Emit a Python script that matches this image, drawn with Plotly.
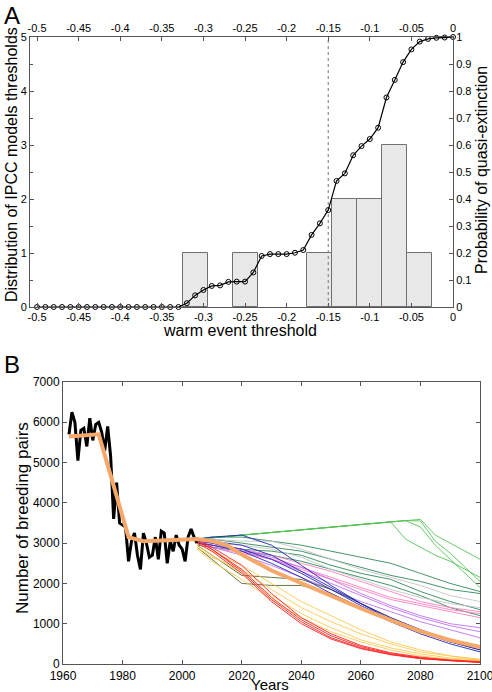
import plotly.graph_objects as go

# ---------------- Panel A data ----------------
BIN_CENTERS = [-0.31, -0.25, -0.16, -0.13, -0.10, -0.07, -0.04]
BIN_COUNTS = [1, 1, 1, 2, 2, 3, 1]
BIN_WIDTH = 0.03

THRESH = [round(-0.5 + 0.01 * i, 2) for i in range(51)]
PROB = [0, 0, 0, 0, 0, 0, 0, 0, 0, 0,
        0, 0, 0, 0, 0, 0, 0, 0, 0.014, 0.043,
        0.063, 0.078, 0.080, 0.093, 0.094, 0.094, 0.128, 0.189, 0.196, 0.196,
        0.196, 0.201, 0.211, 0.267, 0.31, 0.359, 0.467, 0.495, 0.562, 0.596,
        0.622, 0.664, 0.776, 0.841, 0.907, 0.954, 0.983, 0.993, 0.997, 0.998,
        1.0]
CUTOFF = -0.15

XTICKS_A = [round(-0.5 + 0.05 * i, 2) for i in range(11)]
XTICK_TEXT_A = ["-0.5", "-0.45", "-0.4", "-0.35", "-0.3", "-0.25", "-0.2", "-0.15", "-0.1", "-0.05", "0"]
YTICKS_A2 = [round(0.1 * i, 1) for i in range(11)]
YTICK_TEXT_A2 = ["0", "0.1", "0.2", "0.3", "0.4", "0.5", "0.6", "0.7", "0.8", "0.9", "1"]

# ---------------- Panel B data ----------------
OBS_YEARS = list(range(1962, 2006))
OBS_PAIRS = [5700, 6250, 6000, 5050, 5800, 5850, 5400, 6100, 5550, 5950,
             6000, 5750, 5300, 5900, 5150, 3600, 4500, 3500, 3450, 3400,
             2550, 3050, 3250, 2700, 2350, 3250, 3000, 2650, 2700, 3150,
             2600, 3300, 3250, 2500, 3050, 2800, 3200, 2950, 2850, 2550,
             3150, 3350, 3150, 3000]

MEAN_YEARS = [1962, 1972, 1982, 1987, 2005, 2010, 2015, 2020, 2030, 2040, 2050, 2060, 2070, 2080, 2090, 2100]
MEAN_PAIRS = [5650, 5700, 3150, 3050, 3100, 3050, 2950, 2720, 2320, 2000, 1680, 1380, 1090, 810, 590, 420]

GREEN_YEARS = [2005, 2070, 2075, 2080, 2085, 2090, 2095, 2100]
GREEN_LINES = [
    [3100, 3530, 3560, 3590, 3200, 3000, 2800, 2600],
    [3100, 3530, 3100, 2900, 2700, 2550, 2350, 2150],
    [3100, 3530, 3560, 3550, 3050, 2750, 2400, 2050],
    [3100, 3530, 3560, 3400, 2950, 2600, 2250, 1900],
]

PROJ_YEARS = [2005, 2010, 2020, 2030, 2040, 2050, 2060, 2070, 2080, 2090, 2100]
TEAL_LINES = [
    [3100, 3150, 3150, 3050, 2950, 2800, 2650, 2500, 2250, 2000, 1800],
    [3050, 3100, 3000, 2900, 2800, 2600, 2400, 2200, 2050, 1850, 1750],
    [3000, 2950, 2850, 2800, 2700, 2450, 2250, 2100, 1800, 1550, 1350],
    [2950, 2900, 2800, 2700, 2550, 2350, 2150, 1950, 1700, 1400, 1200],
]
GRAY_LINES = [
    [3100, 3100, 3050, 3050, 2850, 2600, 2350, 2150, 1950, 1700, 1550],
    [3050, 3000, 2950, 2850, 2650, 2350, 2100, 1850, 1650, 1500, 1400],
]
PINK_LINES = [
    [3050, 2950, 2850, 2700, 2500, 2300, 2050, 1800, 1550, 1400, 1300],
    [3000, 2900, 2750, 2600, 2400, 2150, 1900, 1650, 1500, 1350, 1250],
    [3100, 3000, 2800, 2600, 2350, 2100, 1850, 1600, 1450, 1300, 1150],
]
VIOLET_LINES = [
    [3050, 2950, 2800, 2600, 2300, 2000, 1700, 1400, 1150, 950, 800],
    [3100, 3000, 2850, 2650, 2400, 2100, 1750, 1450, 1200, 1000, 900],
    [3000, 2900, 2700, 2450, 2150, 1850, 1550, 1300, 1050, 850, 650],
]
BLUE_LINES = [
    [3100, 3150, 3200, 2950, 2450, 1950, 1500, 1100, 800, 550, 350],
    [3050, 3000, 2850, 2600, 2250, 1850, 1450, 1100, 800, 550, 400],
    [3100, 3050, 2950, 2700, 2300, 1900, 1500, 1150, 850, 600, 450],
    [3000, 2950, 2800, 2500, 2150, 1750, 1400, 1050, 750, 500, 300],
]
OLIVE_LINES = [
    [2950, 2700, 2200, 2150, 2100, 1850, 1500, 1150, 850, 550, 350],
    [2900, 2600, 2000, 1950, 1950, 1750, 1400, 1100, 800, 550, 400],
]
YELLOW_LINES = [
    [2950, 2700, 2250, 1700, 1250, 900, 600, 400, 250, 150, 100],
    [2900, 2650, 2350, 1850, 1400, 1050, 750, 500, 300, 200, 120],
    [3000, 2800, 2450, 2000, 1550, 1200, 850, 550, 350, 200, 100],
    [2850, 2550, 2100, 1600, 1150, 800, 550, 350, 200, 120, 80],
]
RED_LINES = [
    [3050, 2850, 2350, 1650, 1100, 700, 430, 260, 150, 90, 50],
    [3000, 2800, 2250, 1550, 1000, 620, 380, 230, 130, 80, 40],
    [3100, 2900, 2450, 1750, 1150, 750, 460, 280, 170, 100, 60],
    [3050, 2850, 2300, 1600, 1050, 650, 400, 240, 140, 80, 40],
]

FONT = "Liberation Sans, Arial, sans-serif"
AX = "#555555"

fig = go.Figure()

# ---- Panel A ----
fig.add_trace(go.Bar(x=BIN_CENTERS, y=BIN_COUNTS, width=BIN_WIDTH,
                     marker=dict(color="#E8E8E8", line=dict(color="#707070", width=1)),
                     xaxis="x", yaxis="y", showlegend=False))
fig.add_trace(go.Scatter(x=[CUTOFF, CUTOFF], y=[0, 5], mode="lines",
                         line=dict(color="#777777", width=1, dash="dot"),
                         xaxis="x", yaxis="y", showlegend=False))
fig.add_trace(go.Scatter(x=THRESH, y=PROB, mode="lines+markers",
                         line=dict(color="black", width=1.2),
                         marker=dict(symbol="circle-open", size=5, color="black", line=dict(width=1)),
                         xaxis="x2", yaxis="y2", showlegend=False, cliponaxis=False))

# ---- Panel B ----
def add_group(years, lines, color):
    for vals in lines:
        fig.add_trace(go.Scatter(x=years, y=vals, mode="lines",
                                 line=dict(color=color, width=0.9),
                                 xaxis="x3", yaxis="y3", showlegend=False))

add_group(GREEN_YEARS, GREEN_LINES, "#55C455")
add_group(PROJ_YEARS, TEAL_LINES, "#2E8B57")
add_group(PROJ_YEARS, GRAY_LINES, "#C4C4C4")
add_group(PROJ_YEARS, PINK_LINES, "#FF7FBF")
add_group(PROJ_YEARS, VIOLET_LINES, "#C070F0")
add_group(PROJ_YEARS, OLIVE_LINES, "#4F6B2A")
add_group(PROJ_YEARS, BLUE_LINES, "#2222C0")
add_group(PROJ_YEARS, YELLOW_LINES, "#FFC850")
add_group(PROJ_YEARS, RED_LINES, "#FF2020")

fig.add_trace(go.Scatter(x=OBS_YEARS, y=OBS_PAIRS, mode="lines",
                         line=dict(color="black", width=3),
                         xaxis="x3", yaxis="y3", showlegend=False))
fig.add_trace(go.Scatter(x=MEAN_YEARS, y=MEAN_PAIRS, mode="lines",
                         line=dict(color="#F5A86A", width=4),
                         xaxis="x3", yaxis="y3", showlegend=False))

W, H = 492, 692
dxA = [30 / W, 453 / W]
dyA = [1 - 307 / H, 1 - 37 / H]
dxB = [63 / W, 480 / W]
dyB = [1 - 664 / H, 1 - 382 / H]

tickfont = dict(family=FONT, size=11, color="black")
common = dict(showline=True, linecolor=AX, linewidth=1, ticks="inside", ticklen=4,
              tickcolor=AX, showgrid=False, zeroline=False, tickfont=tickfont, automargin=False,
              ticklabeloverflow="allow")
fontB = dict(family=FONT, size=12, color="black")

fig.update_layout(
    template="none",
    width=W, height=H, margin=dict(l=0, r=0, t=0, b=0, pad=0),
    paper_bgcolor="white", plot_bgcolor="white",
    font=dict(family=FONT, color="black"),
    bargap=0,
    xaxis=dict(domain=dxA, range=[-0.5085, 0], anchor="y", tickvals=XTICKS_A, ticktext=XTICK_TEXT_A, **common),
    xaxis2=dict(domain=dxA, range=[-0.5085, 0], anchor="y2", overlaying="x", side="top",
                tickvals=XTICKS_A, ticktext=XTICK_TEXT_A, **common),
    yaxis=dict(domain=dyA, range=[0, 5], anchor="x", tickvals=[0, 1, 2, 3, 4, 5],
               minor=dict(dtick=0.5, ticks="inside", ticklen=3, tickcolor=AX), **common),
    yaxis2=dict(domain=dyA, range=[0, 1], anchor="x2", overlaying="y", side="right",
                tickvals=YTICKS_A2, ticktext=YTICK_TEXT_A2, **common),
    xaxis3=dict(domain=dxB, range=[1960, 2100], anchor="y3", dtick=20, tick0=1960, mirror="ticks",
                ticklabelstandoff=1, **{**common, "tickfont": fontB}),
    yaxis3=dict(domain=dyB, range=[0, 7000], anchor="x3", dtick=1000, mirror="ticks",
                **{**common, "tickfont": fontB}),
    annotations=[
        dict(text="A", x=2 / W, y=1 - 16 / H, xref="paper", yref="paper", xanchor="left", yanchor="middle",
             showarrow=False, font=dict(size=24, family=FONT)),
        dict(text="B", x=2 / W, y=1 - 364 / H, xref="paper", yref="paper", xanchor="left", yanchor="middle",
             showarrow=False, font=dict(size=24, family=FONT)),
        dict(text="Distribution of IPCC models thresholds", x=11 / W, y=1 - 165 / H, xref="paper", yref="paper",
             xanchor="center", yanchor="middle",
             textangle=-90, showarrow=False, font=dict(size=16, family=FONT)),
        dict(text="Probability of quasi-extinction", x=481 / W, y=1 - 170 / H, xref="paper", yref="paper",
             xanchor="center", yanchor="middle",
             textangle=-90, showarrow=False, font=dict(size=16, family=FONT)),
        dict(text="warm event threshold", x=240 / W, y=1 - 330 / H, xref="paper", yref="paper",
             xanchor="center", yanchor="middle",
             showarrow=False, font=dict(size=16, family=FONT)),
        dict(text="Number of breeding pairs", x=22 / W, y=1 - 518 / H, xref="paper", yref="paper",
             xanchor="center", yanchor="middle",
             textangle=-90, showarrow=False, font=dict(size=17, family=FONT)),
        dict(text="Years", x=270 / W, y=1 - 684 / H, xref="paper", yref="paper",
             xanchor="center", yanchor="middle",
             showarrow=False, font=dict(size=15, family=FONT)),
    ],
)

fig.write_html("out.html", config={"displayModeBar": False},
               post_script="document.body.style.margin='0';document.body.style.overflow='hidden';")
